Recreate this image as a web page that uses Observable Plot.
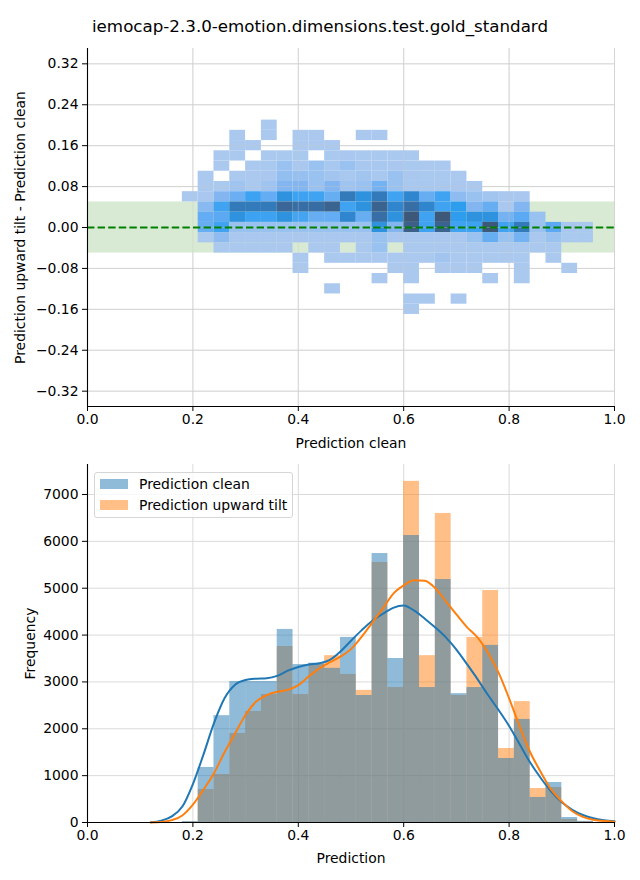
<!DOCTYPE html>
<html><head><meta charset="utf-8">
<script src="https://cdn.jsdelivr.net/npm/d3@7"></script>
<script src="https://cdn.jsdelivr.net/npm/@observablehq/plot@0.6"></script>
<style>
body{margin:0;background:#fff;}
#fig{position:relative;width:640px;height:880px;font-family:"DejaVu Sans",sans-serif;background:#fff;overflow:hidden;color:#000}
#title{position:absolute;left:0;top:16px;width:640px;text-align:center;font-size:16.7px;line-height:20px;}
#top{position:absolute;left:0;top:38px}
#bottom{position:absolute;left:0;top:454px}
#legend{position:absolute;left:94px;top:472px;width:197px;height:44px;border:1px solid #d6d6d6;border-radius:3px;background:rgba(255,255,255,0.8);font-size:13.9px;}
.li{position:absolute;left:5px;height:16px;line-height:16px;white-space:nowrap}
.sw{display:inline-block;width:28px;height:10px;vertical-align:middle;margin-right:11px;position:relative;top:-1px}
</style></head><body>
<div id="fig">
  <div id="title">iemocap-2.3.0-emotion.dimensions.test.gold_standard</div>
  <div id="top"></div>
  <div id="bottom"></div>
  <div id="legend"></div>
</div>
<script>
// ---------- data ----------
const xTicks = [0, 0.2, 0.4, 0.6, 0.8, 1.0];
const diffTicks = [-0.32, -0.24, -0.16, -0.08, 0, 0.08, 0.16, 0.24, 0.32];
const freqTicks = [0, 1000, 2000, 3000, 4000, 5000, 6000, 7000];
const xDomain = [0, 1];
const diffDomain = [-0.35, 0.35];
const freqDomain = [0, 7640];
const toleranceBand = [-0.05, 0.05];
const zeroLine = [0];

// prediction bins (shared by heatmap columns and histogram bars)
const binEdges = [0.18,0.21,0.24,0.27,0.30,0.33,0.36,0.39,0.42,0.45,0.48,0.51,0.54,0.57,0.60,0.63,0.66,0.69,0.72,0.75,0.78,0.81,0.84,0.87,0.90,0.93,0.96];
// difference bins, top to bottom
const diffEdges = [0.21,0.19,0.17,0.15,0.13,0.11,0.09,0.07,0.05,0.03,0.01,-0.01,-0.03,-0.05,-0.07,-0.09,-0.11,-0.13,-0.15,-0.17];

// counts per cell: one row per difference bin (top to bottom), one column per prediction bin
const heatCounts = [
  [0,0,0,0,0,20,0,0,0,0,0,0,0,0,0,0,0,0,0,0,0,0,0,0,0,0],
  [0,0,0,20,0,20,0,20,20,0,0,20,20,0,0,0,0,0,0,0,0,0,0,0,0,0],
  [0,0,0,20,20,0,0,20,20,20,0,0,0,0,0,0,0,0,0,0,0,0,0,0,0,0],
  [0,0,20,20,0,20,30,30,0,30,40,30,30,30,20,0,0,0,0,0,0,0,0,0,0,0],
  [0,0,20,0,20,30,250,40,250,60,250,60,60,40,30,20,20,0,0,0,0,0,0,0,0,0],
  [0,20,0,20,20,40,300,280,250,150,60,150,60,250,40,30,30,20,0,0,0,0,0,0,0,0],
  [0,20,30,200,30,200,420,420,250,420,200,250,500,250,60,60,60,40,20,0,0,0,0,0,0,0],
  [20,40,420,560,800,600,1000,800,780,580,1250,1000,1250,780,1120,580,780,330,250,150,40,40,0,0,0,0],
  [0,380,780,1250,1250,1250,1500,1400,1420,1550,780,1000,1550,1120,1400,1120,780,880,420,580,40,420,0,0,0,0],
  [0,600,650,1000,800,800,1000,760,580,600,1120,580,1400,1000,1700,780,1700,880,1000,1000,500,650,250,0,0,0],
  [0,580,780,250,250,250,250,250,250,250,250,250,1000,420,1600,780,1550,780,800,1700,780,1250,250,650,40,30],
  [0,20,330,40,40,40,40,40,40,40,40,40,250,40,40,40,40,40,250,580,250,500,40,250,30,30],
  [0,0,20,20,20,20,20,0,20,20,0,20,250,0,20,20,20,20,20,20,20,20,20,20,0,0],
  [0,0,0,0,0,0,0,20,0,20,20,20,20,20,20,20,150,20,20,20,20,20,0,20,0,0],
  [0,0,0,0,0,0,0,20,0,0,0,0,0,20,20,0,20,20,20,0,0,20,0,0,20,0],
  [0,0,0,0,0,0,0,0,0,0,0,0,20,0,20,0,0,0,0,20,0,20,0,0,0,0],
  [0,0,0,0,0,0,0,0,0,20,0,0,0,0,0,0,0,0,0,0,0,0,0,0,0,0],
  [0,0,0,0,0,0,0,0,0,0,0,0,0,0,20,20,0,20,0,0,0,0,0,0,0,0],
  [0,0,0,0,0,0,0,0,0,0,0,0,0,0,20,0,0,0,0,0,0,0,0,0,0,0]
];

const histClean = [20,1174,2280,3010,3010,3010,4120,3370,3400,3290,3950,2710,5740,3500,6125,2880,5186,2750,2880,3780,1366,2200,534,854,107,25];
const histTilt  = [10,704,1024,1900,2370,2730,3756,2730,3380,3560,3160,2820,5550,2880,7280,3560,6595,2710,3950,4950,1580,2580,726,747,64,20];

const kdeX = [0.12,0.14,0.16,0.18,0.20,0.22,0.24,0.26,0.28,0.30,0.32,0.34,0.36,0.38,0.40,0.42,0.44,0.46,0.48,0.50,0.52,0.54,0.56,0.58,0.60,0.62,0.64,0.66,0.68,0.70,0.72,0.74,0.76,0.78,0.80,0.82,0.84,0.86,0.88,0.90,0.92,0.94,0.96,0.98,1.00];
const kdeClean = [5,40,130,340,820,1450,2120,2650,2940,3040,3070,3080,3130,3240,3320,3370,3400,3470,3650,3880,4100,4300,4450,4580,4630,4520,4350,4160,3950,3690,3380,3060,2720,2400,2060,1670,1280,950,660,430,270,160,90,50,25];
const kdeTilt  = [0,10,50,150,380,700,1050,1500,1900,2300,2580,2720,2790,2830,2930,3120,3290,3420,3540,3700,3960,4260,4560,4880,5060,5170,5160,5000,4720,4440,4170,3950,3620,3200,2650,2050,1500,1080,700,450,240,120,60,30,15];

const seriesNames = ["Prediction clean", "Prediction upward tilt"];

// ---------- build tables ----------
const cells = [];
heatCounts.forEach((row, i) => row.forEach((c, j) => {
  if (c > 0) cells.push({x1: binEdges[j], x2: binEdges[j + 1], y1: diffEdges[i + 1], y2: diffEdges[i], count: c});
}));
const counts = cells.map(d => d.count);
const histRows = (vals) => vals.map((v, j) => ({x1: binEdges[j], x2: binEdges[j + 1], count: v}));
const kdeRows = (vals) => vals.map((v, i) => ({x: kdeX[i], y: v}));

const heatColors = ["#abc9ef","#9dc3f0","#80b5f1","#5ba9f3","#2f9ff0","#2d8bd6","#3477b6","#3a6899","#3d5878"];
const heatInterp = d3.piecewise(d3.interpolateRgb, heatColors);

const BLUE = "#1f77b4", ORANGE = "#ff7f0e";
const fontStyle = {fontFamily: "DejaVu Sans, sans-serif", fontSize: "13.9px", background: "transparent", color: "#000", overflow: "visible"};

// ---------- top: heatmap of differences ----------
const topPlot = Plot.plot({
  width: 640, height: 416,
  marginTop: 10, marginBottom: 48, marginLeft: 87, marginRight: 26,
  style: fontStyle,
  x: {domain: xDomain},
  y: {domain: diffDomain},
  color: {type: "linear", domain: d3.extent(counts), interpolate: heatInterp},
  marks: [
    Plot.gridX(xTicks, {stroke: "#dadada", strokeOpacity: 1, strokeWidth: 1}),
    Plot.gridY(diffTicks, {stroke: "#dadada", strokeOpacity: 1, strokeWidth: 1}),
    Plot.rect([toleranceBand], {x1: () => xDomain[0], x2: () => xDomain[1], y1: d => d[0], y2: d => d[1], fill: "#d8ead3"}),
    Plot.rect(cells, {x1: "x1", x2: "x2", y1: "y1", y2: "y2", fill: "count"}),
    Plot.gridX(xTicks, {stroke: "#c8c8c8", strokeOpacity: 0.35, strokeWidth: 1}),
    Plot.gridY(diffTicks, {stroke: "#c8c8c8", strokeOpacity: 0.35, strokeWidth: 1}),
    Plot.ruleY(zeroLine, {stroke: "#008000", strokeWidth: 2, strokeDasharray: "7.4,3.2"}),
    Plot.ruleX([xDomain[0]], {stroke: "#000", strokeWidth: 1.1}),
    Plot.ruleY([diffDomain[0]], {stroke: "#000", strokeWidth: 1.1}),
    Plot.axisX({ticks: xTicks, tickFormat: d3.format(".1f"), tickSize: 5, tickPadding: 3, label: "Prediction clean", labelAnchor: "center", labelArrow: "none", labelOffset: 41}),
    Plot.axisY({ticks: diffTicks, tickFormat: d3.format(".2f"), tickSize: 5, tickPadding: 4, label: "Prediction upward tilt - Prediction clean", labelAnchor: "center", labelArrow: "none", labelOffset: 72})
  ]
});
document.getElementById("top").appendChild(topPlot);

// ---------- bottom: histograms with KDE ----------
const botPlot = Plot.plot({
  width: 640, height: 426,
  marginTop: 10, marginBottom: 58, marginLeft: 87, marginRight: 26,
  style: fontStyle,
  x: {domain: xDomain},
  y: {domain: freqDomain},
  marks: [
    Plot.gridX(xTicks, {stroke: "#dadada", strokeOpacity: 1, strokeWidth: 1}),
    Plot.gridY(freqTicks, {stroke: "#dadada", strokeOpacity: 1, strokeWidth: 1}),
    Plot.rectY(histRows(histTilt), {x1: "x1", x2: "x2", y: "count", fill: ORANGE, fillOpacity: 0.5, inset: 0}),
    Plot.rectY(histRows(histClean), {x1: "x1", x2: "x2", y: "count", fill: BLUE, fillOpacity: 0.5, inset: 0}),
    Plot.line(kdeRows(kdeClean), {x: "x", y: "y", stroke: BLUE, strokeWidth: 2, curve: "monotone-x"}),
    Plot.line(kdeRows(kdeTilt), {x: "x", y: "y", stroke: ORANGE, strokeWidth: 2, curve: "monotone-x"}),
    Plot.ruleX([xDomain[0]], {stroke: "#000", strokeWidth: 1.1}),
    Plot.ruleY([freqDomain[0]], {stroke: "#000", strokeWidth: 1.1}),
    Plot.axisX({ticks: xTicks, tickFormat: d3.format(".1f"), tickSize: 5, tickPadding: 3, label: "Prediction", labelAnchor: "center", labelArrow: "none", labelOffset: 40}),
    Plot.axisY({ticks: freqTicks, tickFormat: d3.format("d"), tickSize: 5, tickPadding: 4, label: "Frequency", labelAnchor: "center", labelArrow: "none", labelOffset: 62})
  ]
});
document.getElementById("bottom").appendChild(botPlot);

// ---------- legend ----------
const legend = document.getElementById("legend");
const swatchColors = ["rgba(31,119,180,0.5)", "rgba(255,127,14,0.5)"];
seriesNames.forEach((name, i) => {
  const row = document.createElement("div");
  row.className = "li";
  row.style.top = (3 + i * 21) + "px";
  row.innerHTML = `<span class="sw" style="background:${swatchColors[i]}"></span>${name}`;
  legend.appendChild(row);
});
</script>
</body></html>
